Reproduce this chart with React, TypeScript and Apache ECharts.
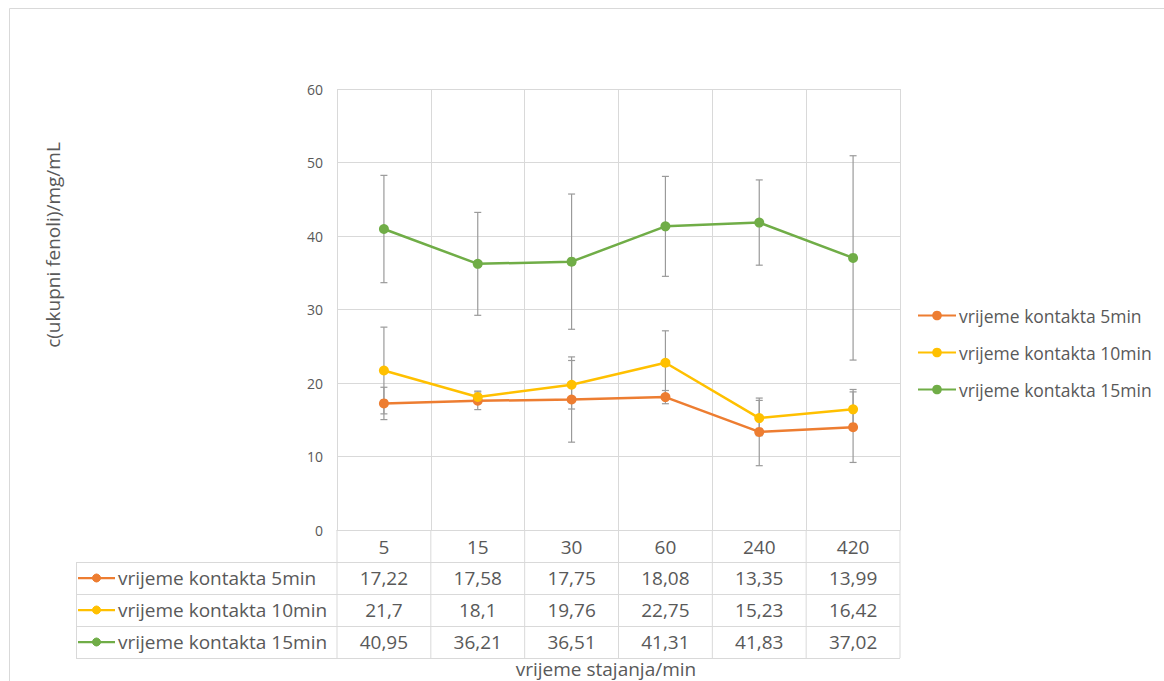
import React, { useEffect, useRef } from "react";
import * as echarts from "echarts";

const categories = ["5", "15", "30", "60", "240", "420"];
const seriesNames = ["vrijeme kontakta 5min", "vrijeme kontakta 10min", "vrijeme kontakta 15min"];
const values5 = [17.22, 17.58, 17.75, 18.08, 13.35, 13.99];
const values10 = [21.7, 18.1, 19.76, 22.75, 15.23, 16.42];
const values15 = [40.95, 36.21, 36.51, 41.31, 41.83, 37.02];
const err5 = [2.2, 1.2, 5.8, 0.9, 4.6, 4.8];
const err10 = [5.9, 0.8, 3.3, 4.35, 2.4, 2.7];
const err15 = [7.3, 7.0, 9.2, 6.8, 5.8, 13.9];
const colors = ["#ED7D31", "#FFC000", "#70AD47"];
const yTicks = { min: 0, max: 60, interval: 10 };
const yTitle = "c(ukupni fenoli)/mg/mL";
const xTitle = "vrijeme stajanja/min";

const W = 1164;
const H = 681;
const GL = 337;
const GR = 900;
const GT = 89;
const GB = 530;
const ROW = 32;
const TABLE_LEFT = 76;
const FONT = "'Open Sans', 'Noto Sans', sans-serif";
const TEXT = "#595959";
const GRID = "#d9d9d9";
const FS = 19;

const fmt = (v: number) => String(v).replace(".", ",");

export default function App() {
  const ref = useRef<HTMLDivElement>(null);
  useEffect(() => {
    if (!ref.current) return;
    const chart = echarts.init(ref.current, null, { renderer: "svg" });
    const allValues = [values5, values10, values15];
    const allErr = [err5, err10, err15];
    const colW = (GR - GL) / categories.length;

    const graphics: any[] = [];
    graphics.push({
      type: "rect",
      shape: { x: 9.5, y: 8.5, width: 1300, height: 800 },
      style: { fill: "none", stroke: GRID, lineWidth: 1 },
      silent: true,
    });
    for (let r = 1; r <= 4; r++) {
      const y = GB + r * ROW + 0.5;
      graphics.push({
        type: "line",
        shape: { x1: TABLE_LEFT, y1: y, x2: GR, y2: y },
        style: { stroke: GRID, lineWidth: 1 },
        silent: true,
      });
    }
    for (let c = 0; c <= categories.length; c++) {
      const x = GL + c * colW;
      graphics.push({
        type: "line",
        shape: { x1: x, y1: GB, x2: x, y2: GB + 4 * ROW },
        style: { stroke: GRID, lineWidth: 1 },
        silent: true,
      });
    }
    graphics.push({
      type: "line",
      shape: { x1: TABLE_LEFT + 0.5, y1: GB + ROW, x2: TABLE_LEFT + 0.5, y2: GB + 4 * ROW },
      style: { stroke: GRID, lineWidth: 1 },
      silent: true,
    });
    seriesNames.forEach((name, i) => {
      const cy = GB + ROW * (i + 1) + ROW / 2;
      graphics.push({
        type: "line",
        shape: { x1: 78, y1: cy, x2: 115, y2: cy },
        style: { stroke: colors[i], lineWidth: 2.25 },
        silent: true,
      });
      graphics.push({
        type: "circle",
        shape: { cx: 96.5, cy, r: 4 },
        style: { fill: colors[i], stroke: colors[i] },
        silent: true,
      });
      graphics.push({
        type: "text",
        x: 118,
        y: cy,
        style: { text: name, fill: TEXT, font: `${FS}px ${FONT}`, verticalAlign: "middle", align: "left" },
        silent: true,
      });
      allValues[i].forEach((v, j) => {
        graphics.push({
          type: "text",
          x: GL + colW * (j + 0.5),
          y: cy,
          style: { text: fmt(v), fill: TEXT, font: `${FS}px ${FONT}`, verticalAlign: "middle", align: "center" },
          silent: true,
        });
      });
    });
    graphics.push({
      type: "text",
      x: 606,
      y: 669,
      style: { text: xTitle, fill: TEXT, font: `${FS}px ${FONT}`, verticalAlign: "middle", align: "center" },
      silent: true,
    });
    graphics.push({
      type: "text",
      x: 53,
      y: 245,
      rotation: Math.PI / 2,
      style: { text: yTitle, fill: TEXT, font: `${FS}px ${FONT}`, verticalAlign: "middle", align: "center" },
      silent: true,
    });

    const lineSeries = seriesNames.map((name, i) => ({
      name,
      type: "line",
      data: allValues[i],
      symbol: "circle",
      symbolSize: 10,
      itemStyle: { color: colors[i] },
      lineStyle: { color: colors[i], width: 2.5 },
      z: 3,
    }));

    const errSeries = seriesNames.map((name, i) => ({
      name: name + " err",
      type: "custom",
      z: 2,
      data: allValues[i].map((v, j) => [j, v - allErr[i][j], v + allErr[i][j]]),
      encode: { x: 0, y: [1, 2] },
      renderItem: (params: any, api: any) => {
        const x = api.value(0);
        const p1 = api.coord([x, api.value(2)]);
        const p2 = api.coord([x, api.value(1)]);
        const hw = 3.5;
        const st = { stroke: "#9a9a9a", lineWidth: 1.2 };
        return {
          type: "group",
          children: [
            { type: "line", shape: { x1: p1[0], y1: p1[1], x2: p2[0], y2: p2[1] }, style: st },
            { type: "line", shape: { x1: p1[0] - hw, y1: p1[1], x2: p1[0] + hw, y2: p1[1] }, style: st },
            { type: "line", shape: { x1: p2[0] - hw, y1: p2[1], x2: p2[0] + hw, y2: p2[1] }, style: st },
          ],
        };
      },
    }));

    chart.setOption({
      animation: false,
      backgroundColor: "#ffffff",
      textStyle: { fontFamily: FONT },
      grid: { left: GL, right: W - GR, top: GT, bottom: H - GB, containLabel: false },
      legend: {
        data: seriesNames,
        orient: "vertical",
        left: 912,
        top: 301,
        itemWidth: 38,
        itemHeight: 12,
        itemGap: 18,
        textStyle: { color: TEXT, fontSize: 17.5, lineHeight: 19, fontFamily: FONT, padding: [0, 0, 0, -2] },
      },
      xAxis: {
        type: "category",
        data: categories,
        boundaryGap: true,
        axisLine: { show: true, lineStyle: { color: GRID } },
        axisTick: { show: false },
        axisLabel: { color: TEXT, fontSize: FS, margin: 7, fontFamily: FONT },
        splitLine: { show: true, lineStyle: { color: GRID } },
      },
      yAxis: {
        type: "value",
        min: yTicks.min,
        max: yTicks.max,
        interval: yTicks.interval,
        axisLine: { show: false },
        axisTick: { show: false },
        axisLabel: { color: TEXT, fontSize: 14, margin: 14, fontFamily: FONT },
        splitLine: { show: true, lineStyle: { color: GRID } },
      },
      graphic: graphics,
      series: [...errSeries, ...lineSeries],
    });
    return () => chart.dispose();
  }, []);
  return (
    <div
      ref={ref}
      style={{ position: "fixed", left: 0, top: 0, width: W, height: H, background: "#fff" }}
    />
  );
}
